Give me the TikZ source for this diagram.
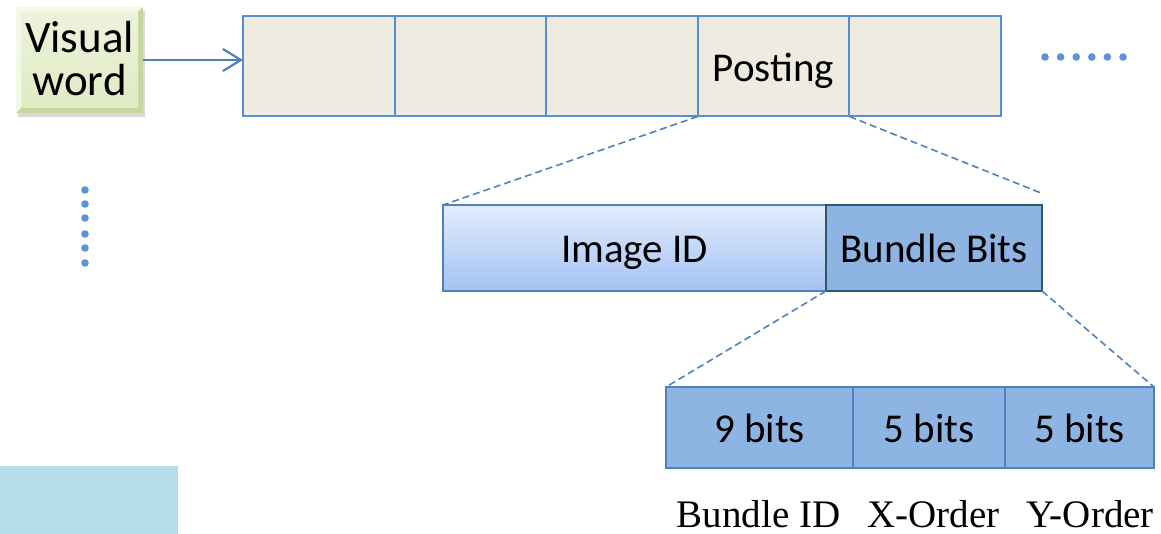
\documentclass[tikz,border=0pt]{standalone}
\usepackage{fontspec}
\setmainfont{Carlito}
\newfontfamily\timesfont{Liberation Serif}
\usetikzlibrary{arrows.meta,shadows}
\definecolor{cellfill}{HTML}{EEECE1}
\definecolor{cellline}{HTML}{558ED5}
\definecolor{bitfill}{HTML}{8EB4E3}
\definecolor{bitline}{HTML}{4F81BD}
\definecolor{bbline}{HTML}{2A5A68}
\definecolor{idtop}{HTML}{E3ECFC}
\definecolor{idbot}{HTML}{A4C2F4}
\definecolor{vwtop}{HTML}{EDF3DC}
\definecolor{vwbot}{HTML}{E0EAC4}
\definecolor{vwedge}{HTML}{C5D79E}
\definecolor{vwlight}{HTML}{F4F8E8}
\definecolor{dotblue}{HTML}{5B93D9}
\definecolor{panel}{HTML}{B7DDE8}
\begin{document}
\begin{tikzpicture}[x=1pt,y=-1pt,
  field/.style={rectangle, inner sep=0pt, outer sep=0pt,
    text height=30pt, text depth=0pt, font=\fontsize{41}{45}\selectfont},
  cell/.style={field, draw=cellline, line width=2pt, fill=cellfill,
    minimum width=151.6pt, minimum height=100pt},
  bits/.style={field, draw=bitline, line width=2pt, fill=bitfill,
    minimum height=81pt},
  caption/.style={anchor=base, inner sep=0pt, font=\timesfont\fontsize{39}{41}\selectfont},
  zoomline/.style={draw=bitline, line width=1.6pt, dash pattern=on 7pt off 4pt},
  dotmark/.style={fill=dotblue},
]
\useasboundingbox (0,0) rectangle (1161,534);

% pale panel in the lower left corner
\fill[panel] (0,466) rectangle (178,534);

% visual word button with bevel and shadow
\node[rectangle, inner sep=0pt, outer sep=0pt, fill=vwedge,
  minimum width=127pt, minimum height=106pt,
  drop shadow={shadow xshift=2pt, shadow yshift=-4pt, opacity=0.3}] (vw) at (79.5,60) {};
\coordinate (vwinNW) at ([shift={(5pt,-5pt)}]vw.north west);
\coordinate (vwinSE) at ([shift={(-5pt,5pt)}]vw.south east);
\fill[vwlight] (vw.north west) -- (vw.north east) -- (vwinSE |- vwinNW) -- (vwinNW)
  -- (vwinNW |- vwinSE) -- (vw.south west) -- cycle;
\fill[top color=vwtop, bottom color=vwbot] (vwinNW) rectangle (vwinSE);
\node[align=center, inner sep=0pt, font=\fontsize{45}{43}\selectfont] (vwtext) at (79.5,59) {Visual\\word};

% posting list
\foreach \i in {1,...,5}
  \node[cell] (c\i) at ({243+151.6*(\i-0.5)},66.5) {};
\node[field] (posting) at (c4.center) {Posting};

\draw[draw=bitline, line width=2.2pt, -{Straight Barb[length=18pt,width=22pt,line width=2.2pt]}]
  (vw.east) -- (vw.east -| c1.west);

% continuation dots
\foreach \k in {0,...,5}
  \fill[dotmark] ({1045+15.6*\k},57) circle (3.8pt);
\foreach \yy in {190,204,218,234,248,263}
  \fill[dotmark] (85,\yy) circle (3.8pt);

% posting layout
\node[field, draw=bitline, line width=2pt, top color=idtop, bottom color=idbot,
  minimum width=383pt, minimum height=86pt] (img) at (634.5,248) {Image ID};
\node[field, draw=bbline, line width=2pt, fill=bitfill,
  minimum width=216pt, minimum height=86pt] (bb) at (934,248) {Bundle Bits};

% bundle bits layout
\node[bits, minimum width=187pt] (b1) at (759.5,427.5) {9 bits};
\node[bits, minimum width=152pt] (b2) at (929,427.5) {5 bits};
\node[bits, minimum width=149pt] (b3) at (1079.5,427.5) {5 bits};

\node[caption] (l1) at (758.5,527) {Bundle ID};
\node[caption] (l2) at (933.5,527) {X-Order};
\node[caption] (l3) at (1090,527) {Y-Order};

% zoom guides
\coordinate (bbtip) at (1041,193);
\draw[zoomline] (c4.south west) -- (img.north west);
\draw[zoomline] (c4.south east) -- (bbtip);
\draw[zoomline, shorten >=3pt] (bb.south west) -- (b1.north west);
\draw[zoomline] (bb.south east) -- (b3.north east);
\end{tikzpicture}
\end{document}
